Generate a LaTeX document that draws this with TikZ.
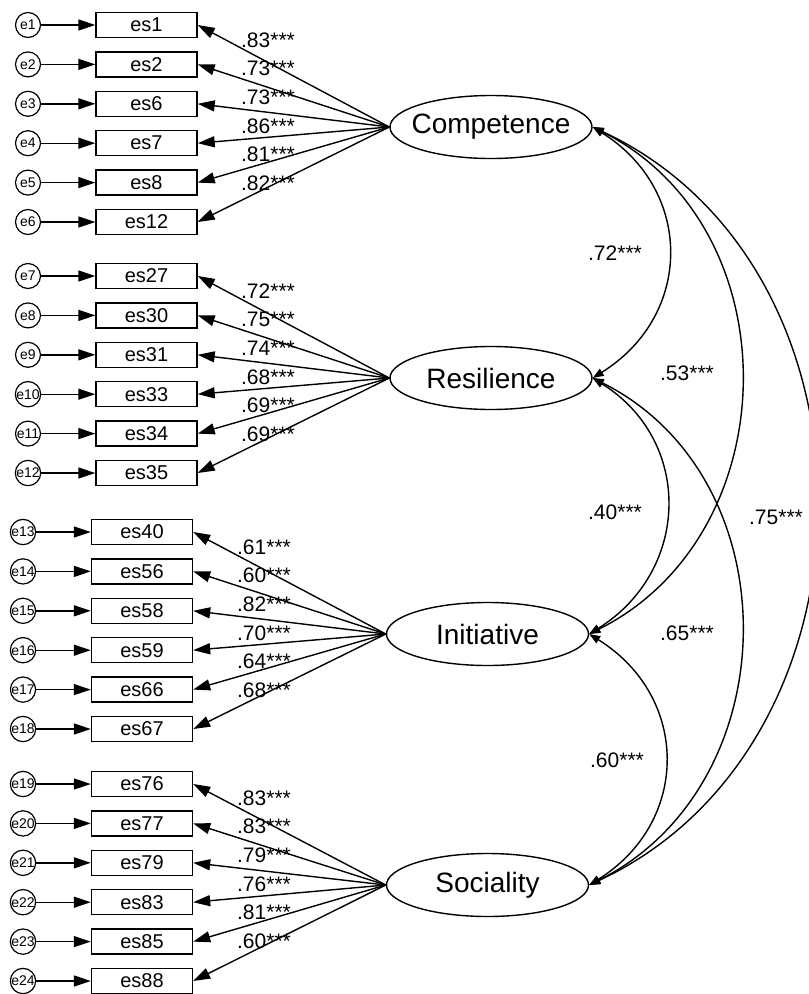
\documentclass[tikz,border=0pt]{standalone}
\usepackage{fontspec}
\setmainfont{Liberation Sans}
\usetikzlibrary{arrows.meta,calc,shapes.geometric}

\tikzset{
    obs/.style={draw,line width=1.4pt,minimum width=101pt,minimum height=25pt,
        inner sep=0pt,font=\fontsize{20}{22}\selectfont},
    err/.style={draw,circle,line width=1.2pt,minimum size=25pt,inner sep=0pt,
        font=\fontsize{14}{16}\selectfont},
    lat/.style={draw,ellipse,line width=1.4pt,minimum width=202pt,minimum height=63pt,
        inner sep=0pt,label={[font=\fontsize{28}{30}\selectfont]center:#1}},
    load/.style={-{Triangle[length=17pt,width=11pt]},line width=1.4pt},
    cov/.style={{Triangle[length=11pt,width=8pt]}-{Triangle[length=11pt,width=8pt]},
        line width=1.4pt},
    coef/.style={font=\fontsize{21}{23}\selectfont,inner sep=0pt},
}

\begin{document}
\begin{tikzpicture}[x=1pt,y=-1pt]
    \useasboundingbox (0,0) rectangle (809,994);

    % === Competence ===
    \node[lat=Competence] (comp) at (491,127) {};
    \foreach \v/\c/\e [count=\i from 0] in {es1/.83/e1,es2/.73/e2,es6/.73/e3,
            es7/.86/e4,es8/.81/e5,es12/.82/e6}{
        \node[obs] (\v) at (146.5,{25+39.4*\i}) {\v};
        \node[err] (\e) at (28,{25+39.4*\i}) {\e};
        \draw[load] (\e) -- (\v);
        \draw[load] (comp.west) -- (\v.east);
        \node[coef] (l\v) at (268,{40+28.6*\i}) {\c***};
    }

    % === Resilience ===
    \node[lat=Resilience] (resi) at (491,378) {};
    \foreach \v/\c/\e [count=\i from 0] in {es27/.72/e7,es30/.75/e8,es31/.74/e9,
            es33/.68/e10,es34/.69/e11,es35/.69/e12}{
        \node[obs] (\v) at (146.5,{276+39.4*\i}) {\v};
        \node[err] (\e) at (28,{276+39.4*\i}) {\e};
        \draw[load] (\e) -- (\v);
        \draw[load] (resi.west) -- (\v.east);
        \node[coef] (l\v) at (268,{291+28.6*\i}) {\c***};
    }

    % === Initiative ===
    \node[lat=Initiative] (init) at (487.5,634) {};
    \foreach \v/\c/\e [count=\i from 0] in {es40/.61/e13,es56/.60/e14,es58/.82/e15,
            es59/.70/e16,es66/.64/e17,es67/.68/e18}{
        \node[obs] (\v) at (142,{532+39.4*\i}) {\v};
        \node[err] (\e) at (23,{532+39.4*\i}) {\e};
        \draw[load] (\e) -- (\v);
        \draw[load] (init.west) -- (\v.east);
        \node[coef] (l\v) at (264,{547+28.6*\i}) {\c***};
    }

    % === Sociality ===
    \node[lat=Sociality] (soci) at (487.5,885) {};
    \foreach \v/\c/\e [count=\i from 0] in {es76/.83/e19,es77/.83/e20,es79/.79/e21,
            es83/.76/e22,es85/.81/e23,es88/.60/e24}{
        \node[obs] (\v) at (142,{784+39.4*\i}) {\v};
        \node[err] (\e) at (23,{784+39.4*\i}) {\e};
        \draw[load] (\e) -- (\v);
        \draw[load] (soci.west) -- (\v.east);
        \node[coef] (l\v) at (264,{798+28.6*\i}) {\c***};
    }

    % Covariances
    \draw[cov] (comp.east) .. controls +(101,63) and +(101,-63) .. (resi.east);
    \draw[cov] (resi.east) .. controls +(101,63) and +(101,-63) .. (init.east);
    \draw[cov] (init.east) .. controls +(101,63) and +(101,-63) .. (soci.east);
    \draw[cov] (comp.east) .. controls +(200,100) and +(200,-100) .. (init.east);
    \draw[cov] (resi.east) .. controls +(200,100) and +(200,-100) .. (soci.east);
    \draw[cov] (comp.east) .. controls +(300,140) and +(300,-140) .. (soci.east);

    \node[coef] (c12) at (615,253) {.72***};
    \node[coef] (c23) at (615,512) {.40***};
    \node[coef] (c34) at (617,760) {.60***};
    \node[coef] (c13) at (687,373) {.53***};
    \node[coef] (c24) at (687,633) {.65***};
    \node[coef] (c14) at (776,517) {.75***};
\end{tikzpicture}
\end{document}
